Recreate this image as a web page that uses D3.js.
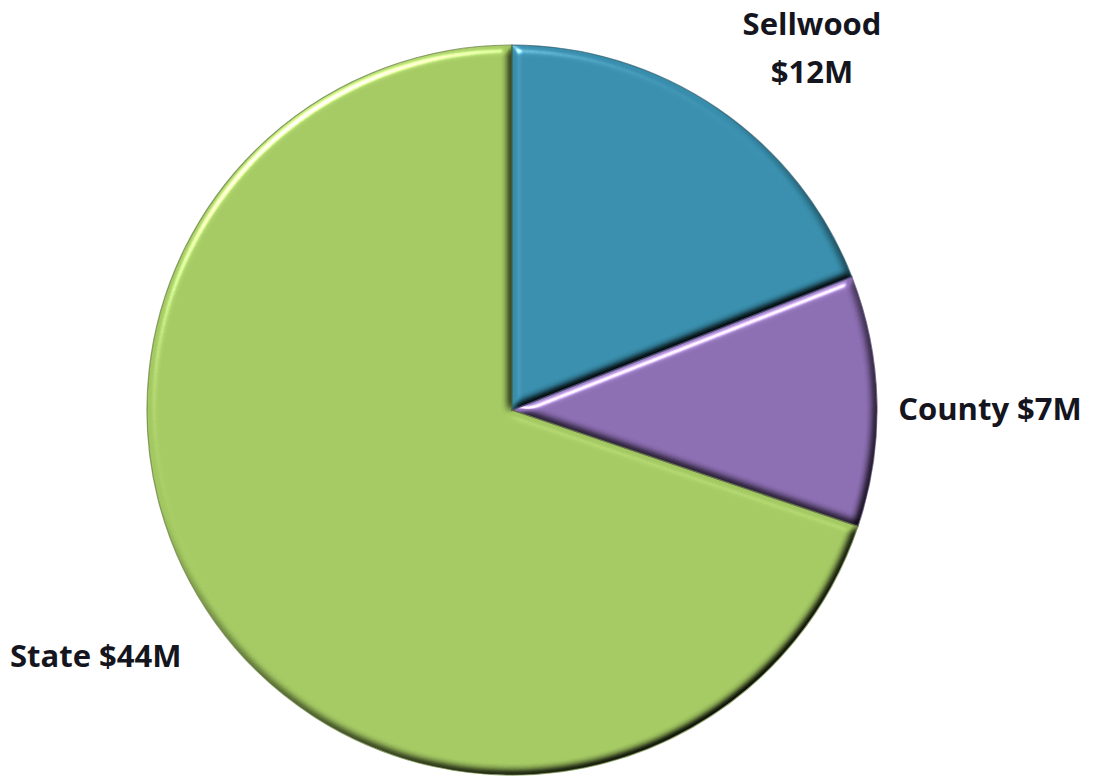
<!DOCTYPE html>
<html><head><meta charset="utf-8">
<script src="https://cdn.jsdelivr.net/npm/d3@7"></script>
<style>html,body{margin:0;padding:0;background:#fff;}svg{display:block;}</style>
</head><body>
<svg id="chart" width="1095" height="779"></svg>
<script>
const categories = ["Sellwood", "County", "State"];
const values = [12, 7, 44];
const labels = [["Sellwood", "$12M"], ["County $7M"], ["State $44M"]];
const colors = ["#378dab", "#8a6cb0", "#a3c862"];
const strokes = ["#1f4f60", "#4a3966", "#5b7530"];

const svg = d3.select("#chart");
const cx = 512, cy = 410, R = 365;

const defs = svg.append("defs");
const f = defs.append("filter").attr("id", "bevel").attr("x", "-5%").attr("y", "-5%").attr("width", "110%").attr("height", "110%")
  .attr("color-interpolation-filters", "sRGB");
f.append("feGaussianBlur").attr("in", "SourceAlpha").attr("stdDeviation", 4).attr("result", "blur");
f.append("feDiffuseLighting").attr("in", "blur").attr("surfaceScale", 5).attr("diffuseConstant", 1.414).attr("lighting-color", "#fff").attr("result", "diff")
  .append("feDistantLight").attr("azimuth", 235).attr("elevation", 45);
f.append("feComposite").attr("in", "SourceGraphic").attr("in2", "diff").attr("operator", "arithmetic").attr("k1", 1).attr("k2", 0).attr("k3", 0).attr("k4", 0).attr("result", "shaded");
f.append("feSpecularLighting").attr("in", "blur").attr("surfaceScale", 5).attr("specularConstant", 0.7).attr("specularExponent", 40).attr("lighting-color", "#fff").attr("result", "spec")
  .append("feDistantLight").attr("azimuth", 235).attr("elevation", 40);
f.append("feComposite").attr("in", "spec").attr("in2", "SourceAlpha").attr("operator", "in").attr("result", "specIn");
f.append("feComposite").attr("in", "shaded").attr("in2", "specIn").attr("operator", "arithmetic").attr("k1", 0).attr("k2", 1).attr("k3", 1).attr("k4", 0).attr("result", "lit");
f.append("feComposite").attr("in", "lit").attr("in2", "SourceAlpha").attr("operator", "in");

const pie = d3.pie().sort(null).value(d => d)(values);
const arc = d3.arc().innerRadius(0).outerRadius(R);

const g = svg.append("g").attr("transform", `translate(${cx},${cy})`);
g.selectAll("path.slice").data(pie).join("path")
  .attr("class", "slice")
  .attr("d", arc)
  .attr("fill", (d, i) => colors[i])
  .attr("filter", "url(#bevel)");
g.selectAll("path.edge").data(pie).join("path")
  .attr("class", "edge")
  .attr("d", arc)
  .attr("fill", "none")
  .attr("stroke", (d, i) => strokes[i])
  .attr("stroke-width", 1.2)
  .attr("stroke-opacity", 0.7);

const labelPos = [[812, 35, "middle"], [990, 420, "middle"], [10, 667, "start"]];
const txt = svg.append("g").attr("font-family", "'Open Sans', Calibri, sans-serif").attr("font-weight", "bold").attr("font-size", 31).attr("fill", "#151520");
labels.forEach((ls, i) => {
  const t = txt.append("text").attr("x", labelPos[i][0]).attr("y", labelPos[i][1]).attr("text-anchor", labelPos[i][2]);
  ls.forEach((s, j) => t.append("tspan").attr("x", labelPos[i][0]).attr("dy", j === 0 ? 0 : 48).text(s));
});
</script>
</body></html>
